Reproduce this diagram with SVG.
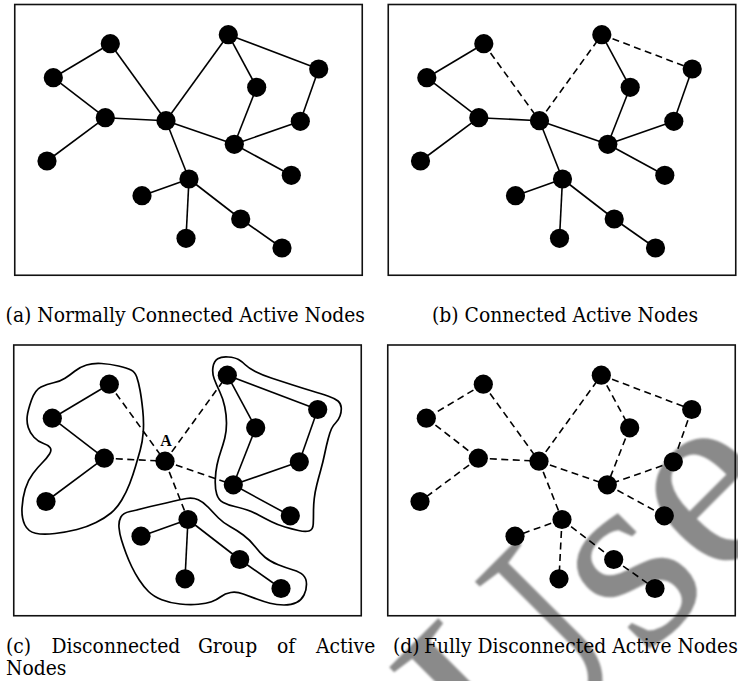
<svg xmlns="http://www.w3.org/2000/svg" width="738" height="681" viewBox="0 0 738 681">
<style>
.frame{fill:none;stroke:#111;stroke-width:1.6}
.e{stroke:#000;stroke-width:1.6;fill:none}
.d{stroke-dasharray:7 4.5}
.n{fill:#000}
.blob{fill:none;stroke:#000;stroke-width:1.7}
.cap{font-family:"DejaVu Serif","Liberation Serif",serif;font-size:20.5px;fill:#000}
.wm{font-family:"Liberation Serif","Times New Roman",serif;font-size:265px;fill:#8a8a8a}
</style>
<defs>
<filter id="soft" x="-10%" y="-10%" width="120%" height="120%"><feGaussianBlur stdDeviation="1.2"/></filter>
</defs>
<rect width="738" height="681" fill="#fff"/>
<g id="watermark" filter="url(#soft)">
<text class="wm" transform="translate(508,794) rotate(-45)">Use</text>
</g>

<!-- Panel (a) -->
<g id="panel-a">
<rect class="frame" x="14.75" y="4.5" width="347.5" height="270.75"/>
<g id="a-connectors" class="e">
<line x1="110.3" y1="43.7" x2="53.3" y2="77.7"/>
<line x1="53.3" y1="77.7" x2="105.3" y2="117.7"/>
<line x1="105.3" y1="117.7" x2="47" y2="161"/>
<line x1="105.3" y1="117.7" x2="166" y2="120.7"/>
<line x1="110.3" y1="43.7" x2="166" y2="120.7"/>
<line x1="166" y1="120.7" x2="228.3" y2="34.7"/>
<line x1="228.3" y1="34.7" x2="256.7" y2="87.3"/>
<line x1="228.3" y1="34.7" x2="318.7" y2="69"/>
<line x1="256.7" y1="87.3" x2="234.3" y2="144.3"/>
<line x1="318.7" y1="69" x2="300.3" y2="121.3"/>
<line x1="300.3" y1="121.3" x2="234.3" y2="144.3"/>
<line x1="166" y1="120.7" x2="234.3" y2="144.3"/>
<line x1="234.3" y1="144.3" x2="291.3" y2="175.3"/>
<line x1="166" y1="120.7" x2="189" y2="179"/>
<line x1="189" y1="179" x2="142" y2="195.7"/>
<line x1="189" y1="179" x2="186" y2="238.3"/>
<line x1="189" y1="179" x2="240.7" y2="219"/>
<line x1="240.7" y1="219" x2="282" y2="248"/>
</g>
<g id="a-n1"><circle class="n" cx="110.3" cy="43.7" r="9.6"/></g>
<g id="a-n2"><circle class="n" cx="53.3" cy="77.7" r="9.6"/></g>
<g id="a-n3"><circle class="n" cx="105.3" cy="117.7" r="9.6"/></g>
<g id="a-n4"><circle class="n" cx="47" cy="161" r="9.6"/></g>
<g id="a-n5"><circle class="n" cx="166" cy="120.7" r="9.6"/></g>
<g id="a-n6"><circle class="n" cx="228.3" cy="34.7" r="9.6"/></g>
<g id="a-n7"><circle class="n" cx="256.7" cy="87.3" r="9.6"/></g>
<g id="a-n8"><circle class="n" cx="318.7" cy="69" r="9.6"/></g>
<g id="a-n9"><circle class="n" cx="300.3" cy="121.3" r="9.6"/></g>
<g id="a-n10"><circle class="n" cx="234.3" cy="144.3" r="9.6"/></g>
<g id="a-n11"><circle class="n" cx="291.3" cy="175.3" r="9.6"/></g>
<g id="a-n12"><circle class="n" cx="189" cy="179" r="9.6"/></g>
<g id="a-n13"><circle class="n" cx="142" cy="195.7" r="9.6"/></g>
<g id="a-n14"><circle class="n" cx="186" cy="238.3" r="9.6"/></g>
<g id="a-n15"><circle class="n" cx="240.7" cy="219" r="9.6"/></g>
<g id="a-n16"><circle class="n" cx="282" cy="248" r="9.6"/></g>
</g>

<!-- Panel (b) -->
<g id="panel-b" transform="translate(373.5,0)">
<rect class="frame" x="14.75" y="4.5" width="347.5" height="270.75"/>
<g id="b-connectors" class="e">
<line x1="110.3" y1="43.7" x2="53.3" y2="77.7"/>
<line x1="53.3" y1="77.7" x2="105.3" y2="117.7"/>
<line x1="105.3" y1="117.7" x2="47" y2="161"/>
<line x1="105.3" y1="117.7" x2="166" y2="120.7"/>
<line class="d" x1="110.3" y1="43.7" x2="166" y2="120.7"/>
<line class="d" x1="166" y1="120.7" x2="228.3" y2="34.7"/>
<line x1="228.3" y1="34.7" x2="256.7" y2="87.3"/>
<line class="d" x1="228.3" y1="34.7" x2="318.7" y2="69"/>
<line x1="256.7" y1="87.3" x2="234.3" y2="144.3"/>
<line x1="318.7" y1="69" x2="300.3" y2="121.3"/>
<line x1="300.3" y1="121.3" x2="234.3" y2="144.3"/>
<line x1="166" y1="120.7" x2="234.3" y2="144.3"/>
<line x1="234.3" y1="144.3" x2="291.3" y2="175.3"/>
<line x1="166" y1="120.7" x2="189" y2="179"/>
<line x1="189" y1="179" x2="142" y2="195.7"/>
<line x1="189" y1="179" x2="186" y2="238.3"/>
<line x1="189" y1="179" x2="240.7" y2="219"/>
<line x1="240.7" y1="219" x2="282" y2="248"/>
</g>
<g id="b-n1"><circle class="n" cx="110.3" cy="43.7" r="9.6"/></g>
<g id="b-n2"><circle class="n" cx="53.3" cy="77.7" r="9.6"/></g>
<g id="b-n3"><circle class="n" cx="105.3" cy="117.7" r="9.6"/></g>
<g id="b-n4"><circle class="n" cx="47" cy="161" r="9.6"/></g>
<g id="b-n5"><circle class="n" cx="166" cy="120.7" r="9.6"/></g>
<g id="b-n6"><circle class="n" cx="228.3" cy="34.7" r="9.6"/></g>
<g id="b-n7"><circle class="n" cx="256.7" cy="87.3" r="9.6"/></g>
<g id="b-n8"><circle class="n" cx="318.7" cy="69" r="9.6"/></g>
<g id="b-n9"><circle class="n" cx="300.3" cy="121.3" r="9.6"/></g>
<g id="b-n10"><circle class="n" cx="234.3" cy="144.3" r="9.6"/></g>
<g id="b-n11"><circle class="n" cx="291.3" cy="175.3" r="9.6"/></g>
<g id="b-n12"><circle class="n" cx="189" cy="179" r="9.6"/></g>
<g id="b-n13"><circle class="n" cx="142" cy="195.7" r="9.6"/></g>
<g id="b-n14"><circle class="n" cx="186" cy="238.3" r="9.6"/></g>
<g id="b-n15"><circle class="n" cx="240.7" cy="219" r="9.6"/></g>
<g id="b-n16"><circle class="n" cx="282" cy="248" r="9.6"/></g>
</g>

<!-- Panel (c) -->
<g id="c-groups">
<path class="blob" d="M31.5,400 Q35,390 41,387 Q47,384 53.5,382.75 Q60,381.5 65,378.25 Q70,375 75,371 Q80,367 86.5,365 Q93,363 101.5,363.5 Q110,364 118.5,366 Q127,368 131,370 Q135,372 136.75,377 Q138.5,382 140,390 Q141.5,398 142.75,410 Q144,422 143.25,432 Q142.5,442 140.25,450 Q138,458 135.5,466.5 Q133,475 129.75,483.5 Q126.5,492 121.75,500 Q117,508 111,513 Q105,518 96,522.5 Q87,527 77,529.5 Q67,532 55,533.5 Q43,535 35.5,533.25 Q28,531.5 24.75,524.75 Q21.5,518 22,508 Q22.5,498 25.25,489 Q28,480 33,473.5 Q38,467 42.5,462.5 Q47,458 49.5,454 Q52,450 50,447.5 Q48,445 43,443.25 Q38,441.5 34,437.25 Q30,433 28.25,427.5 Q26.5,422 27.25,416 Q28,410 31.5,400 Z"/>
<path class="blob" d="M213,367 Q214,361 217.75,358.75 Q221.5,356.5 228.25,357 Q235,357.5 238.5,359.5 Q242,361.5 245.25,364.75 Q248.5,368 255.25,371.5 Q262,375 272,378.25 Q282,381.5 292,384.75 Q302,388 312,391 Q322,394 328.5,396.25 Q335,398.5 338,401 Q341,403.5 341.25,407.75 Q341.5,412 340,416 Q338.5,420 335.75,422.75 Q333,425.5 331.5,428.75 Q330,432 328.25,438.5 Q326.5,445 324.75,453.5 Q323,462 320.75,470 Q318.5,478 316.75,485 Q315,492 314.25,498.5 Q313.5,505 313.5,511.5 Q313.5,518 313.25,524 Q313,530 309,531 Q305,532 298.5,530.5 Q292,529 285,527 Q278,525 271.5,521.75 Q265,518.5 259,515.25 Q253,512 247.25,510 Q241.5,508 234.75,506.5 Q228,505 223.25,502.5 Q218.5,500 216.75,494.25 Q215,488.5 215.25,480.25 Q215.5,472 217,465 Q218.5,458 220.75,451.5 Q223,445 224.75,438.25 Q226.5,431.5 226.5,423.25 Q226.5,415 224.75,406.75 Q223,398.5 219.75,391.75 Q216.5,385 214.25,379 Q212,373 213,367 Z"/>
<path class="blob" d="M120.75,517.25 Q123,513 130,511.5 Q137,510 143.5,508.25 Q150,506.5 158.25,504.75 Q166.5,503 173.25,501.25 Q180,499.5 186.5,498.5 Q193,497.5 198.25,499.75 Q203.5,502 208.5,507.5 Q213.5,513 218.5,518 Q223.5,523 230,526.5 Q236.5,530 243.25,535 Q250,540 255,546.5 Q260,553 265,557.25 Q270,561.5 278.25,564.75 Q286.5,568 293.25,570 Q300,572 303.25,575.25 Q306.5,578.5 306.5,584.25 Q306.5,590 304,595 Q301.5,600 296.5,602.5 Q291.5,605 284,605 Q276.5,605 270,603.25 Q263.5,601.5 256.75,599 Q250,596.5 243.25,594 Q236.5,591.5 230.75,592.5 Q225,593.5 220.75,596.75 Q216.5,600 211.5,601.75 Q206.5,603.5 198.25,604.25 Q190,605 180,604 Q170,603 161.75,599.75 Q153.5,596.5 148.5,591.5 Q143.5,586.5 139.25,580 Q135,573.5 131.75,566.75 Q128.5,560 126,553.25 Q123.5,546.5 121.5,540 Q119.5,533.5 119,527.5 Q118.5,521.5 120.75,517.25 Z"/>
</g>
<g id="panel-c" transform="translate(-1,340.5)">
<rect class="frame" x="14.75" y="4.5" width="347.5" height="270.75"/>
<g id="c-connectors" class="e">
<line x1="110.3" y1="43.7" x2="53.3" y2="77.7"/>
<line x1="53.3" y1="77.7" x2="105.3" y2="117.7"/>
<line x1="105.3" y1="117.7" x2="47" y2="161"/>
<line class="d" x1="105.3" y1="117.7" x2="166" y2="120.7"/>
<line class="d" x1="110.3" y1="43.7" x2="166" y2="120.7"/>
<line class="d" x1="166" y1="120.7" x2="228.3" y2="34.7"/>
<line x1="228.3" y1="34.7" x2="256.7" y2="87.3"/>
<line x1="228.3" y1="34.7" x2="318.7" y2="69"/>
<line x1="256.7" y1="87.3" x2="234.3" y2="144.3"/>
<line x1="318.7" y1="69" x2="300.3" y2="121.3"/>
<line x1="300.3" y1="121.3" x2="234.3" y2="144.3"/>
<line class="d" x1="166" y1="120.7" x2="234.3" y2="144.3"/>
<line x1="234.3" y1="144.3" x2="291.3" y2="175.3"/>
<line class="d" x1="166" y1="120.7" x2="189" y2="179"/>
<line x1="189" y1="179" x2="142" y2="195.7"/>
<line x1="189" y1="179" x2="186" y2="238.3"/>
<line x1="189" y1="179" x2="240.7" y2="219"/>
<line x1="240.7" y1="219" x2="282" y2="248"/>
</g>
<g id="c-n1"><circle class="n" cx="110.3" cy="43.7" r="9.6"/></g>
<g id="c-n2"><circle class="n" cx="53.3" cy="77.7" r="9.6"/></g>
<g id="c-n3"><circle class="n" cx="105.3" cy="117.7" r="9.6"/></g>
<g id="c-n4"><circle class="n" cx="47" cy="161" r="9.6"/></g>
<g id="c-n5"><circle class="n" cx="166" cy="120.7" r="9.6"/><text x="167" y="105.5" text-anchor="middle" font-family="'Liberation Serif','Times New Roman',serif" font-size="16" font-weight="bold">A</text></g>
<g id="c-n6"><circle class="n" cx="228.3" cy="34.7" r="9.6"/></g>
<g id="c-n7"><circle class="n" cx="256.7" cy="87.3" r="9.6"/></g>
<g id="c-n8"><circle class="n" cx="318.7" cy="69" r="9.6"/></g>
<g id="c-n9"><circle class="n" cx="300.3" cy="121.3" r="9.6"/></g>
<g id="c-n10"><circle class="n" cx="234.3" cy="144.3" r="9.6"/></g>
<g id="c-n11"><circle class="n" cx="291.3" cy="175.3" r="9.6"/></g>
<g id="c-n12"><circle class="n" cx="189" cy="179" r="9.6"/></g>
<g id="c-n13"><circle class="n" cx="142" cy="195.7" r="9.6"/></g>
<g id="c-n14"><circle class="n" cx="186" cy="238.3" r="9.6"/></g>
<g id="c-n15"><circle class="n" cx="240.7" cy="219" r="9.6"/></g>
<g id="c-n16"><circle class="n" cx="282" cy="248" r="9.6"/></g>
</g>

<!-- Panel (d) -->
<g id="panel-d" transform="translate(373,340.5)">
<rect class="frame" x="14.75" y="4.5" width="347.5" height="270.75"/>
<g id="d-connectors" class="e d">
<line x1="110.3" y1="43.7" x2="53.3" y2="77.7"/>
<line x1="53.3" y1="77.7" x2="105.3" y2="117.7"/>
<line x1="105.3" y1="117.7" x2="47" y2="161"/>
<line x1="105.3" y1="117.7" x2="166" y2="120.7"/>
<line x1="110.3" y1="43.7" x2="166" y2="120.7"/>
<line x1="166" y1="120.7" x2="228.3" y2="34.7"/>
<line x1="228.3" y1="34.7" x2="256.7" y2="87.3"/>
<line x1="228.3" y1="34.7" x2="318.7" y2="69"/>
<line x1="256.7" y1="87.3" x2="234.3" y2="144.3"/>
<line x1="318.7" y1="69" x2="300.3" y2="121.3"/>
<line x1="300.3" y1="121.3" x2="234.3" y2="144.3"/>
<line x1="166" y1="120.7" x2="234.3" y2="144.3"/>
<line x1="234.3" y1="144.3" x2="291.3" y2="175.3"/>
<line x1="166" y1="120.7" x2="189" y2="179"/>
<line x1="189" y1="179" x2="142" y2="195.7"/>
<line x1="189" y1="179" x2="186" y2="238.3"/>
<line x1="189" y1="179" x2="240.7" y2="219"/>
<line x1="240.7" y1="219" x2="282" y2="248"/>
</g>
<g id="d-n1"><circle class="n" cx="110.3" cy="43.7" r="9.6"/></g>
<g id="d-n2"><circle class="n" cx="53.3" cy="77.7" r="9.6"/></g>
<g id="d-n3"><circle class="n" cx="105.3" cy="117.7" r="9.6"/></g>
<g id="d-n4"><circle class="n" cx="47" cy="161" r="9.6"/></g>
<g id="d-n5"><circle class="n" cx="166" cy="120.7" r="9.6"/></g>
<g id="d-n6"><circle class="n" cx="228.3" cy="34.7" r="9.6"/></g>
<g id="d-n7"><circle class="n" cx="256.7" cy="87.3" r="9.6"/></g>
<g id="d-n8"><circle class="n" cx="318.7" cy="69" r="9.6"/></g>
<g id="d-n9"><circle class="n" cx="300.3" cy="121.3" r="9.6"/></g>
<g id="d-n10"><circle class="n" cx="234.3" cy="144.3" r="9.6"/></g>
<g id="d-n11"><circle class="n" cx="291.3" cy="175.3" r="9.6"/></g>
<g id="d-n12"><circle class="n" cx="189" cy="179" r="9.6"/></g>
<g id="d-n13"><circle class="n" cx="142" cy="195.7" r="9.6"/></g>
<g id="d-n14"><circle class="n" cx="186" cy="238.3" r="9.6"/></g>
<g id="d-n15"><circle class="n" cx="240.7" cy="219" r="9.6"/></g>
<g id="d-n16"><circle class="n" cx="282" cy="248" r="9.6"/></g>
</g>

<!-- Captions -->
<g id="captions" transform="scale(0.915,1)">
<text class="cap" x="6.12" y="322">(a) Normally Connected Active Nodes</text>
<text class="cap" x="472.13" y="322">(b) Connected Active Nodes</text>
<text class="cap"><tspan x="6.56" y="653">(c)</tspan><tspan x="56.28" y="653">Disconnected</tspan><tspan x="216.28" y="653">Group</tspan><tspan x="302.73" y="653">of</tspan><tspan x="345.36" y="653">Active</tspan><tspan x="6.56" y="675.5">Nodes</tspan></text>
<text class="cap" y="653"><tspan x="429.51">(d)</tspan><tspan x="463.39">Fully Disconnected Active Nodes</tspan></text>
</g>
</svg>
